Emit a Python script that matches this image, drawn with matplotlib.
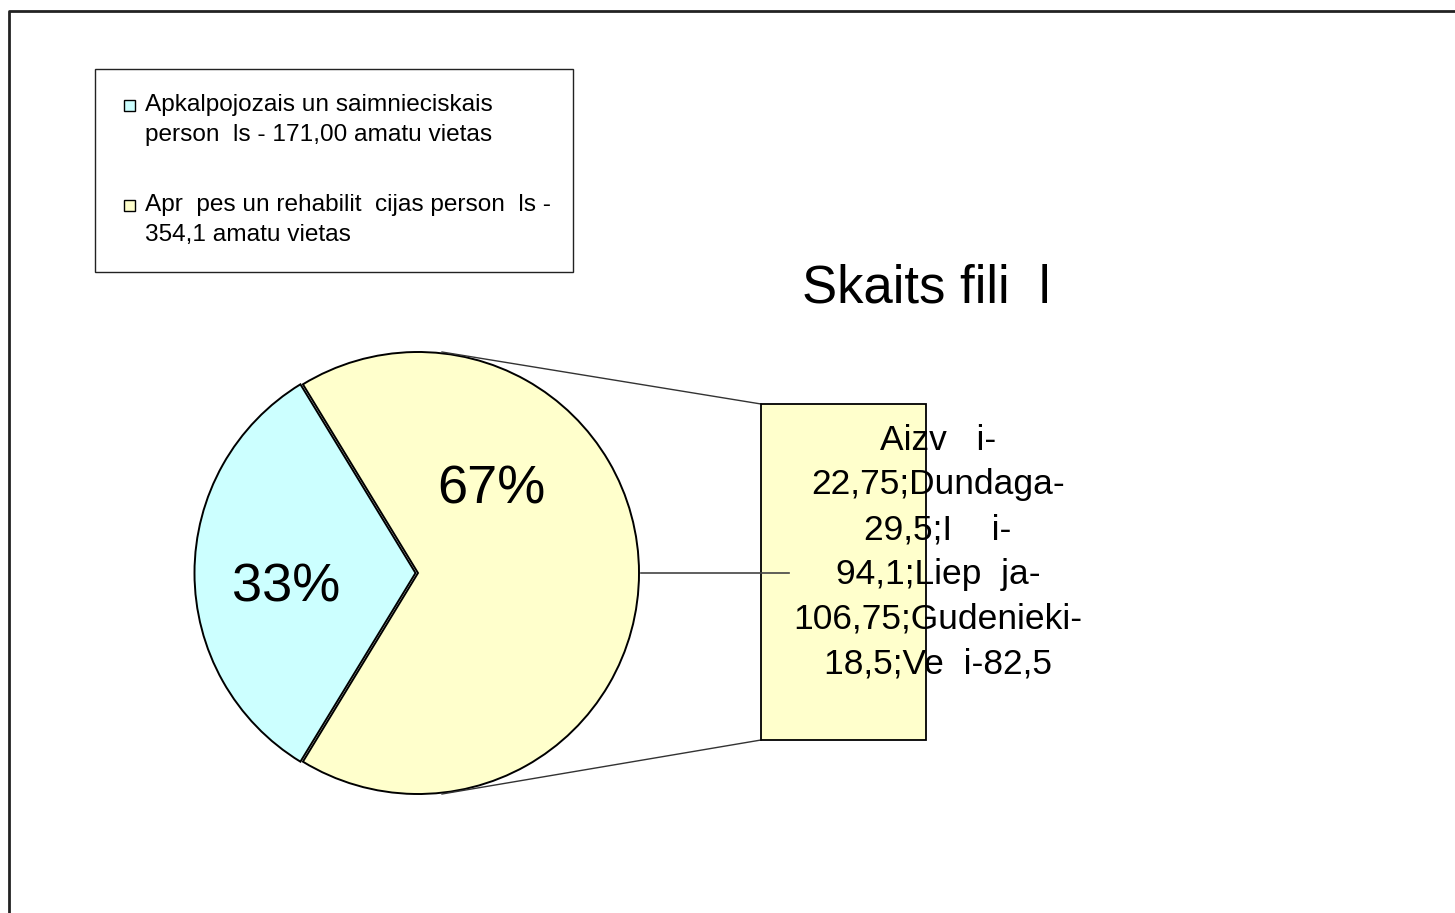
'''Pie with a bar breakdown: staff positions by category and branch.'''

import matplotlib
matplotlib.use('Agg')
import matplotlib.pyplot as plt
import matplotlib.patches as mpatches

plt.rcParams['font.family'] = ['Liberation Sans', 'DejaVu Sans']

# Data
labels = ['Apkalpojozais un saimnieciskais\nperson  ls - 171,00 amatu vietas',
          'Apr  pes un rehabilit  cijas person  ls -\n354,1 amatu vietas']
values = [171.00, 354.1]
colors = ['#CCFFFF', '#FFFFCC']
bar_label = ('Aizv   i-\n22,75;Dundaga-\n29,5;I    i-\n94,1;Liep  ja-\n'
             '106,75;Gudenieki-\n18,5;Ve  i-82,5')
title = 'Skaits fili  l'

W, H = 1455, 913


def draw_legend(ax):
    '''Legend box top left, marker beside the first line of each label.'''
    box = mpatches.Rectangle((95, H - 272), 478, 203, facecolor='white',
                             edgecolor='#222222', linewidth=1, zorder=5)
    ax.add_patch(box)
    for idx, (color, label) in enumerate(zip(colors, labels)):
        y = H - 104 - 100 * idx
        ax.add_patch(mpatches.Rectangle((124, y - 7), 11, 11,
                                        facecolor=color, edgecolor='black',
                                        linewidth=1, zorder=6))
        ax.text(145, y + 10, label, fontsize=17.6, ha='left', va='top',
                linespacing=1.45, zorder=6)


def main():
    fig = plt.figure(figsize=(W / 100, H / 100), dpi=100)
    ax = fig.add_axes([0, 0, 1, 1])

    # outer frame (left and top edges only are visible)
    ax.plot([9, 9, W + 5], [-5, H - 11, H - 11], color='#222222', lw=2)

    # pie, cyan slice centred on the left and pulled out a little
    # (explode is in data units here, since the radius is in pixels)
    cx, cy, r = 418, H - 573, 221
    frac = values[0] / sum(values)
    start = 180 - 360 * frac / 2
    ax.pie(values, colors=colors, startangle=start, counterclock=True,
           center=(cx, cy), radius=r, explode=(2.5, 0),
           wedgeprops=dict(edgecolor='black', linewidth=1.4),
           frame=True)
    ax.set_xlim(0, W)
    ax.set_ylim(0, H)
    ax.set_aspect('equal')
    ax.set_axis_off()

    pct = [round(100 * v / sum(values)) for v in values]
    ax.text(286, H - 588, '{}%'.format(pct[0]), fontsize=39,
            ha='center', va='center')
    ax.text(491, H - 489, '{}%'.format(pct[1]), fontsize=39,
            ha='center', va='center')

    # bar of the yellow slice
    ax.bar(843.5, 336, bottom=H - 740, width=165, color=colors[1],
           edgecolor='black', linewidth=1.3, zorder=2)

    # connector lines
    ax.plot([442, 761], [H - 352, H - 404], color='#333333', lw=1, zorder=1)
    ax.plot([442, 761], [H - 794, H - 740], color='#333333', lw=1, zorder=1)
    ax.plot([641, 789], [H - 573, H - 573], color='#444444', lw=1.2,
            zorder=3)

    ax.text(938, H - 552, bar_label, fontsize=25.5, ha='center',
            va='center', linespacing=1.45, zorder=4)

    ax.text(926, H - 288, title, fontsize=38, ha='center', va='center')

    draw_legend(ax)

    fig.savefig('out.png', dpi=100)


if __name__ == '__main__':
    main()
